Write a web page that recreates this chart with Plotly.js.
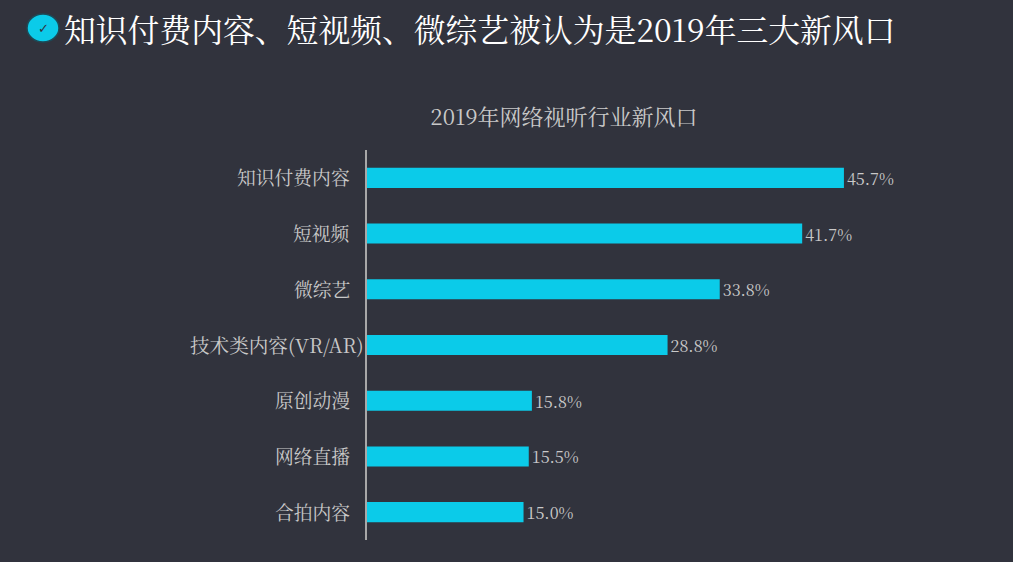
<!DOCTYPE html>
<html><head><meta charset="utf-8"><script src="https://cdn.plot.ly/plotly-3.0.1.min.js"></script>
<style>html,body{margin:0;padding:0;background:#31333d}</style></head><body><div id="c" style="width:1013px;height:562px"></div>
<script>
const categories=["知识付费内容","短视频","微综艺","技术类内容(VR/AR)","原创动漫","网络直播","合拍内容"];
const values=[45.7,41.7,33.8,28.8,15.8,15.5,15.0];
const valueLabels=["45.7%","41.7%","33.8%","28.8%","15.8%","15.5%","15.0%"];
const chartTitle="2019年网络视听行业新风口";
const slideTitle="知识付费内容、短视频、微综艺被认为是2019年三大新风口";
const serif='"Noto Serif CJK SC","Liberation Serif","Noto Sans CJK SC",serif';
const L=367,T=150,W=646,H=390;
const px=v=>(v-L)/W, py=v=>(T+H-v)/H;
const catLabels=categories.map(c=>{const wide=c.includes('VR');return {xref:'x',yref:'y',x:0,y:c,xanchor:'right',yanchor:'middle',showarrow:false,xshift:wide?-1:-15,yshift:1,text:c,font:{color:'#c9c9c9',size:wide?19.6:18.8,family:serif}};});
Plotly.newPlot('c',[{type:'bar',orientation:'h',y:categories,x:values,text:valueLabels,textposition:'outside',constraintext:'none',cliponaxis:false,
 textfont:{color:'#c9c9c9',size:16.2,family:serif},marker:{color:'#0bcbe9'},width:0.36,hoverinfo:'skip'}],{
 width:1013,height:562,paper_bgcolor:'#31333d',plot_bgcolor:'#31333d',showlegend:false,
 margin:{l:L,r:0,t:T,b:22},
 xaxis:{range:[0,61.9],visible:false,fixedrange:true},
 yaxis:{autorange:'reversed',showline:true,linecolor:'#a8a8a8',linewidth:1.5,ticks:'',showgrid:false,zeroline:false,showticklabels:false},
 title:{text:chartTitle,font:{color:'#c9c9c9',size:22,family:serif},x:564/1013,xref:'container',xanchor:'center',y:1-117/562,yref:'container',yanchor:'middle'},
 annotations:[
  {xref:'paper',yref:'paper',x:px(62),y:py(28),xanchor:'left',yanchor:'middle',showarrow:false,text:slideTitle,font:{size:31.8,color:'#ffffff',family:serif}},
  {xref:'paper',yref:'paper',x:px(43),y:py(28),xanchor:'center',yanchor:'middle',showarrow:false,text:'✓',font:{size:13,color:'#31333d',family:'DejaVu Sans'}},
  ...catLabels
 ],
 shapes:[
  {type:'circle',xref:'paper',yref:'paper',x0:px(27),x1:px(59),y0:py(42),y1:py(14),fillcolor:'#0bcbe9',line:{width:1.5,color:'#1c4a57'}}
 ]
},{displayModeBar:false});
</script></body></html>
